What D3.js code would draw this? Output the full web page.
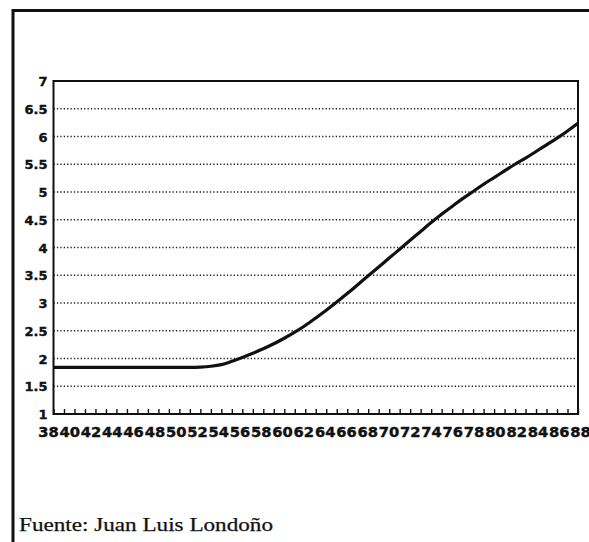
<!DOCTYPE html>
<html><head><meta charset="utf-8">
<script src="https://cdn.jsdelivr.net/npm/d3@7/dist/d3.min.js"></script>
<style>
html,body{margin:0;padding:0;background:#fff;}
svg{display:block;}
</style></head>
<body>
<script>
const years = d3.range(38, 89);
const values = [1.84,1.84,1.84,1.84,1.84,1.84,1.84,1.84,1.84,1.84,1.84,1.84,1.84,
  1.84,1.845,1.86,1.89,1.95,2.02,2.095,2.175,2.265,2.365,2.475,2.595,2.73,2.87,3.02,3.17,
  3.33,3.49,3.65,3.81,3.97,4.13,4.29,4.45,4.60,4.74,4.88,5.01,5.14,5.26,5.38,5.50,
  5.61,5.73,5.85,5.97,6.10,6.24];
const yTicks = [1,1.5,2,2.5,3,3.5,4,4.5,5,5.5,6,6.5,7];
const yTickLabels = ["1","1.5","2","2.5","3","3.5","4","4.5","5","5.5","6","6.5","7"];
const xLabelYears = d3.range(38, 89, 2);
const source = "Fuente: Juan Luis Londoño";

const W = 589, H = 542;
const svg = d3.select("body").append("svg").attr("width", W).attr("height", H);

// outer frame
svg.append("path").attr("d", `M13,${H+10} L13,10.5 L${W+10},10.5`)
  .attr("fill","none").attr("stroke","#111").attr("stroke-width",3);

const pLeft = 53.5, pRight = 578, pTop = 81, pBottom = 414;
const x = d3.scaleLinear().domain([38, 88]).range([pLeft, pRight]);
const xl = d3.scaleLinear().domain([38, 88]).range([48, 580]);
const y = d3.scaleLinear().domain([1, 7]).range([pBottom, pTop]);

// gridlines
svg.append("g").selectAll("line").data(yTicks.filter(v => v > 1 && v < 7)).join("line")
  .attr("x1", pLeft).attr("x2", pRight).attr("y1", d => y(d)).attr("y2", d => y(d))
  .attr("stroke","#222").attr("stroke-width",1.3).attr("stroke-dasharray","1.3,2.1");

// y axis labels
const yAxis = d3.axisLeft(y).tickValues(yTicks).tickSize(0).tickPadding(6)
  .tickFormat((d,i) => yTickLabels[i]);
const gy = svg.append("g").attr("transform", `translate(${pLeft},0)`).call(yAxis);
gy.select(".domain").remove();
gy.selectAll("text").attr("font-family","DejaVu Sans").attr("font-weight","bold")
  .attr("font-size","13px").attr("fill","#111").attr("dy","0.36em")
  .attr("stroke","#111").attr("stroke-width",0.4);

// x ticks (inside, every year)
const xAxis = d3.axisTop(x).tickValues(years).tickSize(5).tickFormat("");
const gx = svg.append("g").attr("transform", `translate(0,${pBottom})`).call(xAxis);
gx.select(".domain").remove();
gx.selectAll(".tick line").attr("stroke","#111").attr("stroke-width",1.4);

// x labels
const xLabAxis = d3.axisBottom(xl).tickValues(xLabelYears).tickSize(0).tickPadding(13)
  .tickFormat(d => String(d));
const gxl = svg.append("g").attr("transform", `translate(0,${pBottom})`).call(xLabAxis);
gxl.select(".domain").remove();
gxl.selectAll("text").attr("font-family","DejaVu Sans").attr("font-weight","bold")
  .attr("font-size","13.5px").attr("fill","#111")
  .attr("stroke","#111").attr("stroke-width",0.4)
  .attr("textLength", 20.5).attr("lengthAdjust","spacingAndGlyphs");

// plot frame
svg.append("rect").attr("x", pLeft).attr("y", pTop).attr("width", pRight-pLeft).attr("height", pBottom-pTop)
  .attr("fill","none").attr("stroke","#111").attr("stroke-width",2);

// line
const line = d3.line().x((d,i) => x(years[i])).y(d => y(d)).curve(d3.curveMonotoneX);
svg.append("path").datum(values).attr("d", line)
  .attr("fill","none").attr("stroke","#111").attr("stroke-width",3.2);

// source
svg.append("text").attr("x", 19).attr("y", 531).text(source)
  .attr("font-family","Liberation Serif").attr("font-size","19px").attr("fill","#111")
  .attr("stroke","#111").attr("stroke-width",0.25)
  .attr("textLength", 254).attr("lengthAdjust","spacingAndGlyphs");
</script>
</body></html>
